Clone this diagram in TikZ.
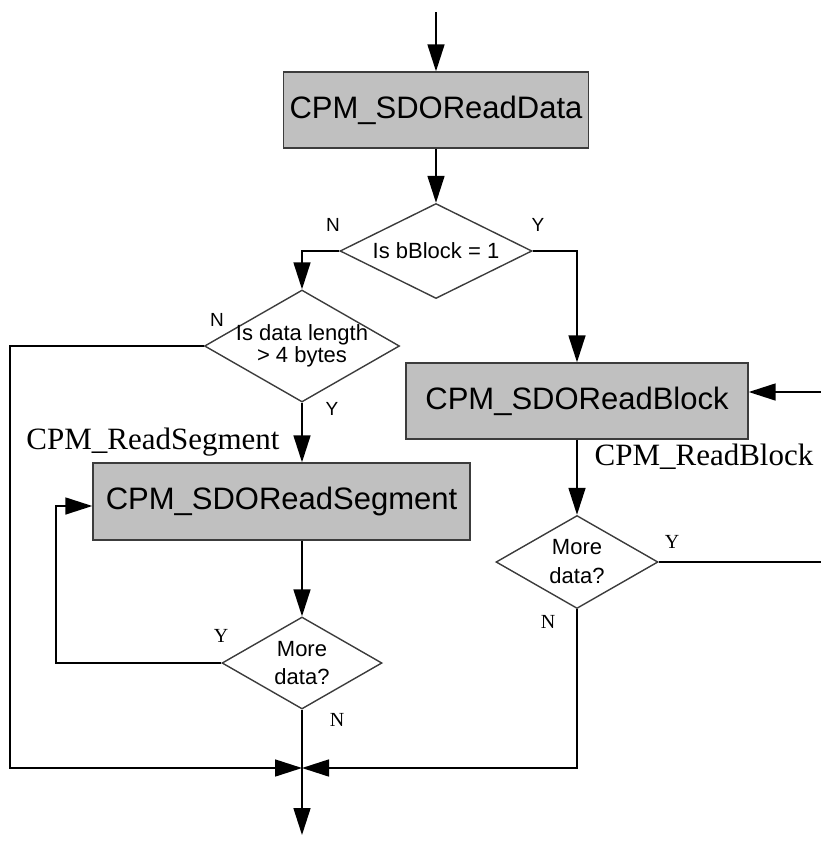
\documentclass[tikz,border=0pt]{standalone}
\usepackage{fontspec}
\setmainfont{Liberation Sans}
\newfontfamily\labelserif{Liberation Serif}
\usetikzlibrary{shapes.geometric,arrows.meta}
\definecolor{boxgray}{RGB}{192,192,192}
\definecolor{edgegray}{RGB}{60,60,60}

\begin{document}
\begin{tikzpicture}[x=1pt,y=-1pt,
		box/.style={draw=edgegray,line width=1.4pt,fill=boxgray,inner sep=0pt,font=\fontsize{31}{31}\selectfont},
		decision/.style={diamond,draw=edgegray,line width=1.4pt,inner sep=-20pt,align=center},
		flow/.style={line width=1.6pt,-{Triangle[length=27pt,width=17pt]}},
		plain/.style={line width=1.6pt},
		yn/.style={font=\fontsize{19}{19}\selectfont},
		ynserif/.style={font=\labelserif\fontsize{20}{20}\selectfont},
		fname/.style={font=\labelserif\fontsize{31}{31}\selectfont,anchor=base}]
				\useasboundingbox (0,0) rectangle (821,841);
				
				\coordinate (start) at (436,12);
				\coordinate (feed) at (821,392);
				\coordinate (loop) at (56,506);
				\coordinate (lft) at (10,768);
				\coordinate (rgt) at (821,562);
				\coordinate (join) at (302,768);
				\coordinate (finish) at (302,835);
				
				\node[box,minimum width=305pt,minimum height=76pt] (readdata) at (436,110) {CPM\_SDOReadData};
				\node[decision,minimum width=192pt,minimum height=95pt,font=\fontsize{22}{22}\selectfont] (isblock) at (436,251) {Is bBlock = 1};
				\node[decision,minimum width=195pt,minimum height=112pt,font=\fontsize{22}{22}\selectfont] (islen) at (302,346) {Is data length\\> 4 bytes};
				\node[box,minimum width=342pt,minimum height=76pt] (readblock) at (577,401) {CPM\_SDOReadBlock};
				\node[decision,minimum width=162pt,minimum height=93pt,font=\fontsize{22}{29}\selectfont] (moreblk) at (577,562) {More\\data?};
				\node[box,minimum width=377pt,minimum height=77pt] (readseg) at (281.5,501.5) {CPM\_SDOReadSegment};
				\node[decision,minimum width=160pt,minimum height=92pt,font=\fontsize{22}{28}\selectfont] (moreseg) at (302,663) {More\\data?};
				
				\node[fname] (segname) at (153,449) {CPM\_ReadSegment};
				\node[fname] (blkname) at (704,465) {CPM\_ReadBlock};
				
				\node[yn] (blkN) at (333,225) {N};
				\node[yn] (blkY) at (538,225) {Y};
				\node[yn] (lenN) at (217,320) {N};
				\node[yn] (lenY) at (332,409) {Y};
				\node[ynserif] (mbY) at (672,542) {Y};
				\node[ynserif] (mbN) at (548,622) {N};
				\node[ynserif] (msY) at (221,636) {Y};
				\node[ynserif] (msN) at (337,720) {N};
				
				\draw[flow] (start) -- (readdata.north);
				\draw[flow] (readdata.south) -- (isblock.north);
				\draw[flow] (isblock.west) -| (islen.north);
				\draw[flow] (isblock.east) -| (readblock.north);
				\draw[flow] (islen.west) -| (lft) -- (join);
				\draw[flow] (islen.south) -- (islen.south |- readseg.north);
				\draw[flow] (readseg.south -| moreseg.north) -- (moreseg.north);
				\draw[flow] (moreseg.west) -| (loop) -- (loop -| readseg.west);
				\draw[flow] (moreseg.south) -- (finish);
				\draw[flow] (feed) -- (feed -| readblock.east);
				\draw[flow] (readblock.south) -- (moreblk.north);
				\draw[flow] (moreblk.south) |- (join);
				\draw[plain] (moreblk.east) -- (rgt);
\end{tikzpicture}
\end{document}
